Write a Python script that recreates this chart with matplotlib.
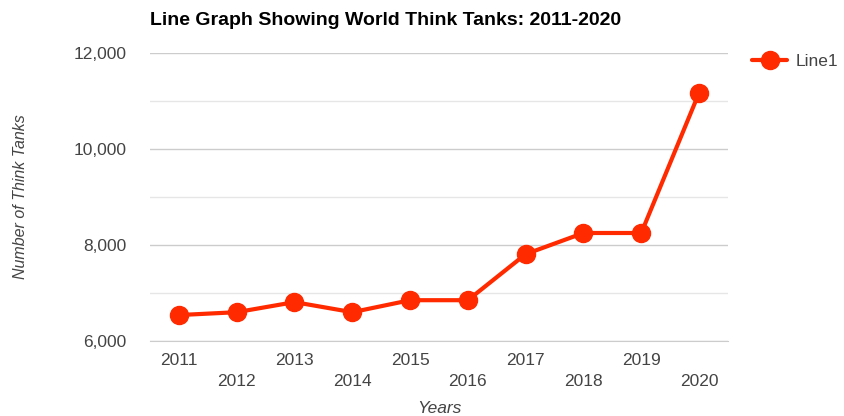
import numpy as np
import matplotlib.pyplot as plt
from matplotlib.ticker import FuncFormatter, MultipleLocator

plt.rcParams['font.family'] = ['Liberation Sans', 'DejaVu Sans']

years = ['2011', '2012', '2013', '2014', '2015', '2016', '2017', '2018', '2019', '2020']
think_tanks = [6540, 6600, 6810, 6600, 6850, 6850, 7810, 8250, 8250, 11170]

red = '#ff2a00'
grey_text = '#444444'

fig = plt.figure(figsize=(8.45, 4.16), dpi=100)
ax = fig.add_axes([0.1775, 0.1803, 0.684, 0.6923])

x = np.arange(len(years))
ax.plot(x, think_tanks, color=red, lw=3, marker='o', ms=13, label='Line1',
        solid_capstyle='round', zorder=3)

ax.set_xlim(-0.5, len(years) - 0.5)
ax.set_ylim(6000, 12000)
ax.yaxis.set_major_locator(MultipleLocator(2000))
ax.yaxis.set_minor_locator(MultipleLocator(1000))
ax.yaxis.set_major_formatter(FuncFormatter(lambda v, p: f'{int(v):,}'))
ax.grid(axis='y', which='major', color='#cccccc', lw=1)
ax.grid(axis='y', which='minor', color='#e6e6e6', lw=1)
ax.set_axisbelow(True)
for s in ['top', 'right', 'left']:
    ax.spines[s].set_visible(False)
ax.spines['bottom'].set_color('#cccccc')
ax.tick_params(axis='y', which='both', length=0, labelsize=12.5,
               labelcolor=grey_text, pad=17)
ax.tick_params(axis='x', length=0, labelsize=12.5, labelcolor=grey_text, pad=9)

# alternate the year labels on two rows
ax.set_xticks(x)
ax.set_xticklabels([y if i % 2 == 0 else '\n' + y for i, y in enumerate(years)],
                   linespacing=1.45)

ax.set_xlabel('Years', fontstyle='italic', fontsize=12.5, color=grey_text,
              labelpad=9)
ax.set_ylabel('Number of Think Tanks', fontstyle='italic', fontsize=11.5,
              color=grey_text, labelpad=33)
ax.set_title('Line Graph Showing World Think Tanks: 2011-2020', loc='left',
             fontweight='bold', fontsize=14, pad=20)

ax.legend(loc='upper left', bbox_to_anchor=(1.03, 1.02), borderaxespad=0,
          frameon=False, fontsize=12.5, handlelength=2.0, handletextpad=0.5,
          labelcolor=grey_text)

fig.savefig('out.png', dpi=100)
